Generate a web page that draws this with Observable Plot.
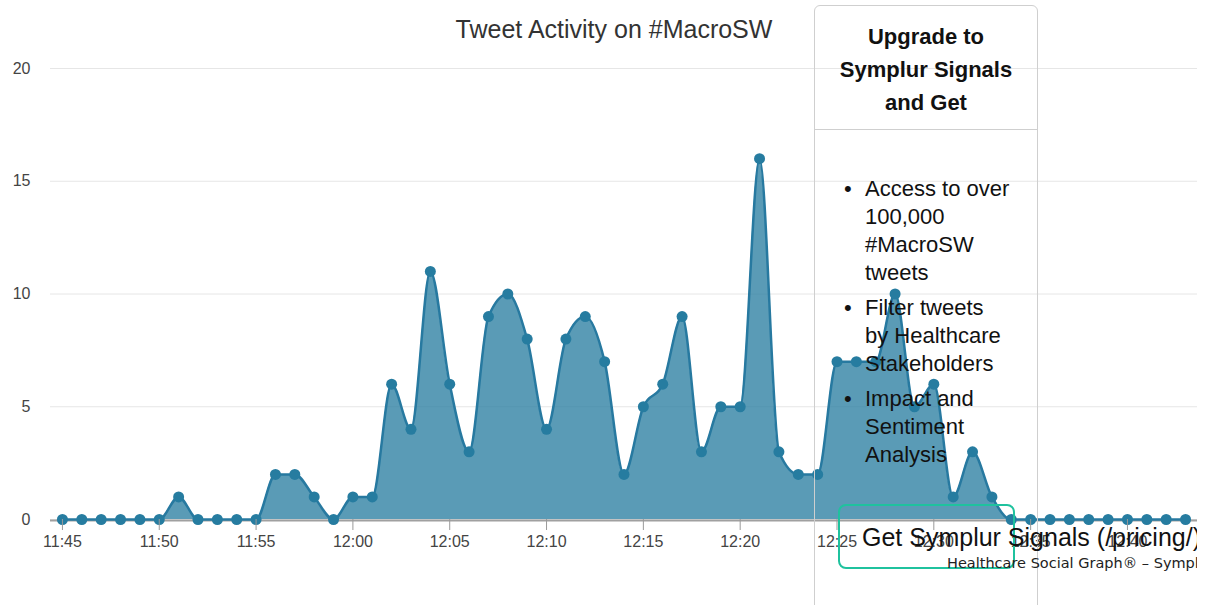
<!DOCTYPE html>
<html><head><meta charset="utf-8">
<script src="https://cdn.jsdelivr.net/npm/d3@7"></script>
<script src="https://cdn.jsdelivr.net/npm/@observablehq/plot@0.6"></script>
<style>
body{margin:0;background:#fff;font-family:"Liberation Sans",Arial,sans-serif;}
#wrap{position:relative;width:1212px;height:605px;overflow:hidden;}
#chart{position:absolute;left:0;top:0;}
#title{position:absolute;left:0;width:1228px;top:15px;text-align:center;font-size:25px;line-height:28px;color:#333;}
#box{position:absolute;left:814px;top:5px;width:222px;height:720px;border:1px solid #cfcfcf;border-radius:6px;}
#boxhead{position:absolute;left:0;top:0;width:222px;height:124px;border-bottom:1px solid #cfcfcf;text-align:center;font-weight:bold;font-size:22px;line-height:33px;color:#111;padding-top:14px;box-sizing:border-box;}
.item{position:absolute;left:865px;font-size:22px;line-height:28px;color:#111;white-space:nowrap;}
.item .b{position:absolute;left:-21px;top:0;}
#clip{position:absolute;left:0;top:0;width:1197px;height:605px;overflow:hidden;}
#btn{position:absolute;left:838px;top:504px;width:173px;height:61px;border:2px solid #1fc29e;border-radius:8px;}
#btntext{position:absolute;left:862px;top:522px;font-size:25px;line-height:30px;color:#111;white-space:nowrap;}
#caption{position:absolute;left:947px;top:555px;font-family:"DejaVu Sans",sans-serif;font-size:14.5px;line-height:16px;color:#222;white-space:nowrap;}
</style>
</head><body>
<div id="wrap">
  <div id="chart"></div>
  <div id="title">Tweet Activity on #MacroSW</div>
  <div id="box"><div id="boxhead">Upgrade to<br>Symplur Signals<br>and Get</div></div>
  <div class="item" style="top:175px"><span class="b">•</span>Access to over<br>100,000<br>#MacroSW<br>tweets</div>
  <div class="item" style="top:294px"><span class="b">•</span>Filter tweets<br>by Healthcare<br>Stakeholders</div>
  <div class="item" style="top:385px"><span class="b">•</span>Impact and<br>Sentiment<br>Analysis</div>
  <div id="clip">
    <div id="btn"></div>
    <div id="btntext">Get Symplur Signals (/pricing/)</div>
    <div id="caption">Healthcare Social Graph® – Symplur</div>
  </div>
</div>
<script>
const times = ["11:45","11:46","11:47","11:48","11:49","11:50","11:51","11:52","11:53","11:54",
  "11:55","11:56","11:57","11:58","11:59","12:00","12:01","12:02","12:03","12:04",
  "12:05","12:06","12:07","12:08","12:09","12:10","12:11","12:12","12:13","12:14",
  "12:15","12:16","12:17","12:18","12:19","12:20","12:21","12:22","12:23","12:24",
  "12:25","12:26","12:27","12:28","12:29","12:30","12:31","12:32","12:33","12:34",
  "12:35","12:36","12:37","12:38","12:39","12:40","12:41","12:42","12:43"];
const counts = [0,0,0,0,0,0,1,0,0,0,
  0,2,2,1,0,1,1,6,4,11,
  6,3,9,10,8,4,8,9,7,2,
  5,6,9,3,5,5,16,3,2,2,
  7,7,7,10,5,6,1,3,1,0,
  0,0,0,0,0,0,0,0,0];
const xTickLabels = ["11:45","11:50","11:55","12:00","12:05","12:10","12:15","12:20","12:25","12:30","12:35","12:40"];
const yTicks = [0,5,10,15,20];

const toDate = (s, sec = 0) => new Date(Date.UTC(2020, 0, 1, +s.slice(0, 2), +s.slice(3), sec));
const data = times.map((t, i) => ({time: toDate(t), count: counts[i]}));
const x0 = new Date(toDate(times[0]) - 37000);
const x1 = new Date(+toDate(times[times.length - 1]) + 37000);

const chart = Plot.plot({
  width: 1212, height: 605,
  marginLeft: 50, marginRight: 15, marginTop: 68, marginBottom: 86,
  style: {fontFamily: "Liberation Sans, Arial, sans-serif", fontSize: "16px", color: "#555", background: "transparent"},
  x: {type: "utc", domain: [x0, x1]},
  y: {domain: [0, 20]},
  marks: [
    Plot.gridY(yTicks, {stroke: "#e6e6e6", strokeOpacity: 1}),
    Plot.areaY(data, {x: "time", y: "count", curve: "monotone-x", fill: "#2b7fa1", fillOpacity: 0.78}),
    Plot.ruleY([0], {stroke: "#a0a0a0", strokeWidth: 2, dy: 1}),
    Plot.lineY(data, {x: "time", y: "count", curve: "monotone-x", stroke: "#2779a0", strokeWidth: 2.5}),
    Plot.dot(data, {x: "time", y: "count", r: 5.5, fill: "#267ca0"}),
    Plot.axisX({ticks: xTickLabels.map(s => toDate(s)), tickFormat: d3.utcFormat("%H:%M"), tickSize: 11, tickPadding: 5, stroke: "#999", label: null, fill: "#444"}),
    Plot.axisY({ticks: yTicks, tickSize: 0, tickPadding: 20, label: null, fill: "#444"})
  ]
});
document.getElementById("chart").appendChild(chart);
</script>
</body></html>
